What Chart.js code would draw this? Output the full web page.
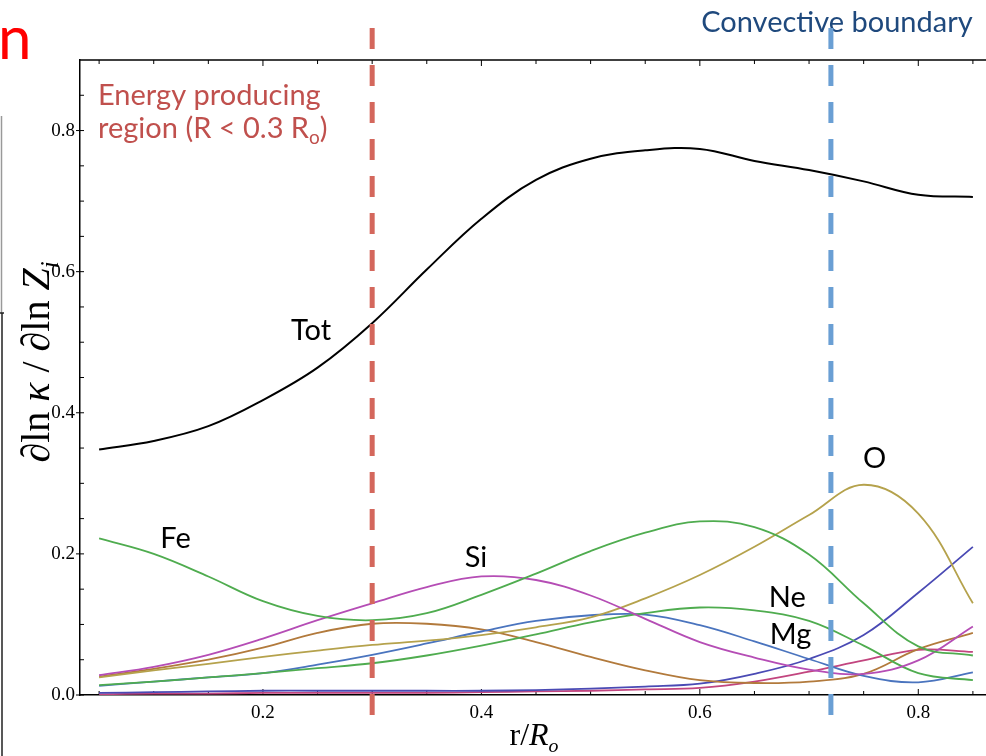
<!DOCTYPE html>
<html lang="en">
<head>
  <meta charset="UTF-8">
  <title>Opacity sensitivity to element abundance</title>
  <style>
    body {
      margin: 0;
      padding: 0;
      background-color: white;
      overflow: hidden;
    }
    #wrap {
      width: 986px;
      height: 756px;
      position: relative;
    }
  </style>
  <script src="https://cdn.jsdelivr.net/npm/chart.js"></script>
</head>
<body>
  <div id="wrap">
    <canvas id="kappaChart" width="986" height="756"></canvas>
  </div>

  <script>
    // radius in units of R_o
    const rValues = [0.05, 0.10, 0.15, 0.20, 0.25, 0.30, 0.35, 0.40, 0.45, 0.50, 0.55, 0.60, 0.65, 0.70, 0.75, 0.80, 0.85];

    // d ln kappa / d ln Z_i for each element
    const totValues = [0.348, 0.360, 0.381, 0.418, 0.464, 0.527, 0.603, 0.675, 0.730, 0.760, 0.772, 0.774, 0.757, 0.744, 0.728, 0.709, 0.706];
    const feValues = [0.222, 0.200, 0.168, 0.133, 0.112, 0.106, 0.116, 0.142, 0.172, 0.204, 0.230, 0.246, 0.238, 0.199, 0.130, 0.069, 0.056];
    const siValues = [0.028, 0.040, 0.057, 0.080, 0.106, 0.130, 0.153, 0.168, 0.163, 0.141, 0.108, 0.075, 0.053, 0.036, 0.030, 0.049, 0.097];
    const oValues = [0.025, 0.035, 0.044, 0.054, 0.063, 0.071, 0.077, 0.085, 0.096, 0.110, 0.137, 0.170, 0.210, 0.255, 0.298, 0.257, 0.130];
    const neValues = [0.014, 0.019, 0.025, 0.031, 0.038, 0.045, 0.056, 0.070, 0.086, 0.103, 0.116, 0.124, 0.120, 0.105, 0.070, 0.031, 0.021];
    const mgValues = [0.013, 0.019, 0.025, 0.031, 0.043, 0.057, 0.073, 0.090, 0.105, 0.113, 0.114, 0.099, 0.076, 0.051, 0.027, 0.018, 0.032];
    // unlabelled curves
    const brownValues = [0.026, 0.037, 0.050, 0.067, 0.088, 0.101, 0.101, 0.093, 0.075, 0.054, 0.035, 0.021, 0.017, 0.019, 0.030, 0.065, 0.088];
    const purpleValues = [0.003, 0.004, 0.005, 0.006, 0.006, 0.006, 0.006, 0.006, 0.007, 0.009, 0.012, 0.016, 0.030, 0.051, 0.085, 0.145, 0.210];
    const pinkValues = [0.001, 0.002, 0.002, 0.003, 0.003, 0.003, 0.003, 0.004, 0.005, 0.006, 0.008, 0.010, 0.019, 0.033, 0.049, 0.064, 0.061];

    const xTicks = [0.2, 0.4, 0.6, 0.8];
    const yTicks = [0.0, 0.2, 0.4, 0.6, 0.8];

    // marker lines (r/R_o)
    const energyEdge = 0.3;
    const convectiveEdge = 0.72;

    // curve labels [text, r, value]
    const curveLabels = [
      ['Tot', 0.244, 0.503],
      ['Fe', 0.120, 0.208],
      ['Si', 0.395, 0.181],
      ['Ne', 0.680, 0.125],
      ['Mg', 0.683, 0.072],
      ['O', 0.760, 0.322]
    ];

    function toPoints(vals) {
      return rValues.map((r, i) => ({ x: r, y: vals[i] }));
    }

    function line(label, vals, color, width) {
      return {
        label: label,
        data: toPoints(vals),
        borderColor: color,
        borderWidth: width || 1.8,
        pointRadius: 0,
        fill: false,
        tension: 0.38
      };
    }

    const sans = 'Lato, "Open Sans", sans-serif';
    const serif = '"Liberation Serif", "DejaVu Serif", serif';

    // draws a run of [text, italic, subscript] pieces starting at x
    function drawPieces(ctx, pieces, x, y, size) {
      pieces.forEach(p => {
        const s = p[2] ? size * 0.62 : size;
        ctx.font = (p[1] ? 'italic ' : '') + s + 'px ' + serif;
        ctx.fillText(p[0], x, p[2] ? y + size * 0.22 : y);
        x += ctx.measureText(p[0]).width;
      });
    }
    function piecesWidth(ctx, pieces, size) {
      let w = 0;
      pieces.forEach(p => {
        const s = p[2] ? size * 0.62 : size;
        ctx.font = (p[1] ? 'italic ' : '') + s + 'px ' + serif;
        w += ctx.measureText(p[0]).width;
      });
      return w;
    }

    const overlay = {
      id: 'overlay',
      beforeDatasetsDraw(chart) {
        const ctx = chart.ctx;
        const xs = chart.scales.x, ys = chart.scales.y;
        const a = chart.chartArea;
        ctx.save();

        // bits of the neighbouring panel
        ctx.fillStyle = '#ff0000';
        ctx.font = '60px ' + sans;
        ctx.textAlign = 'left';
        ctx.textBaseline = 'alphabetic';
        ctx.fillText('n', -2, 59);
        ctx.strokeStyle = '#999';
        ctx.lineWidth = 1.5;
        ctx.beginPath(); ctx.moveTo(1.5, 116); ctx.lineTo(1.5, 313); ctx.stroke();
        ctx.strokeStyle = '#222';
        ctx.beginPath(); ctx.moveTo(0, 313); ctx.lineTo(4, 313); ctx.moveTo(2, 313); ctx.lineTo(2, 756); ctx.stroke();

        // top frame
        ctx.strokeStyle = '#000';
        ctx.lineWidth = 1.5;
        ctx.beginPath(); ctx.moveTo(a.left, a.top); ctx.lineTo(a.right, a.top); ctx.stroke();

        // inward ticks
        ctx.lineWidth = 1;
        for (let i = 1; i <= 17; i++) {
          const v = i * 0.05;
          const px = xs.getPixelForValue(v);
          const len = (i % 4 === 0) ? 6 : 4;
          ctx.beginPath();
          ctx.moveTo(px, a.bottom); ctx.lineTo(px, a.bottom - len);
          ctx.moveTo(px, a.top); ctx.lineTo(px, a.top + len);
          ctx.stroke();
        }
        for (let i = 0; i <= 17; i++) {
          const py = ys.getPixelForValue(i * 0.05);
          ctx.beginPath();
          if (i % 4 === 0) { ctx.moveTo(a.left - 4, py); ctx.lineTo(a.left + 4, py); }
          else { ctx.moveTo(a.left, py); ctx.lineTo(a.left + 4, py); }
          ctx.stroke();
        }

        // text annotations
        ctx.fillStyle = '#c0504d';
        ctx.font = '29px ' + sans;
        const ex = xs.getPixelForValue(0.049);
        ctx.fillText('Energy producing', ex, ys.getPixelForValue(0.836));
        const ey = ys.getPixelForValue(0.789);
        ctx.fillText('region (R < 0.3 R', ex, ey);
        let w = ctx.measureText('region (R < 0.3 R').width;
        ctx.font = '19px ' + sans;
        ctx.fillText('o', ex + w, ey + 6);
        const w2 = ctx.measureText('o').width;
        ctx.font = '29px ' + sans;
        ctx.fillText(')', ex + w + w2, ey);

        ctx.fillStyle = '#1f497d';
        ctx.textAlign = 'center';
        ctx.fillText('Convective boundary', xs.getPixelForValue(0.7255), ys.getPixelForValue(0.94));

        ctx.fillStyle = '#000';
        ctx.font = '29px ' + sans;
        curveLabels.forEach(l => {
          ctx.fillText(l[0], xs.getPixelForValue(l[1]), ys.getPixelForValue(l[2]));
        });

        // axis titles
        ctx.textAlign = 'left';
        const xt = [['r/', false, false], ['R', true, false], ['o', true, true]];
        const xw = piecesWidth(ctx, xt, 32);
        drawPieces(ctx, xt, 534 - xw / 2, 745, 32);

        const yt = [['\u2202ln ', false, false], ['\u03ba', true, false], [' / \u2202ln ', false, false], ['Z', true, false], ['i', true, true]];
        const yw = piecesWidth(ctx, yt, 40);
        ctx.translate(49, 362);
        ctx.rotate(-Math.PI / 2);
        drawPieces(ctx, yt, -yw / 2, 0, 40);
        ctx.restore();
      },
      afterDatasetsDraw(chart) {
        const ctx = chart.ctx;
        const xs = chart.scales.x;
        ctx.save();
        ctx.lineWidth = 5;
        ctx.setLineDash([21, 16]);
        [[energyEdge, '#d4675c'], [convectiveEdge, '#6a9fd4']].forEach(m => {
          const px = xs.getPixelForValue(m[0]);
          ctx.strokeStyle = m[1];
          ctx.beginPath();
          ctx.moveTo(px, 28);
          ctx.lineTo(px, 718);
          ctx.stroke();
        });
        ctx.restore();
      }
    };

    const ctx = document.getElementById('kappaChart').getContext('2d');
    const chart = new Chart(ctx, {
      type: 'line',
      data: {
        datasets: [
          line('Tot', totValues, '#000000', 2),
          line('Fe', feValues, '#4fac4f'),
          line('Si', siValues, '#b54db5'),
          line('O', oValues, '#b5a24c'),
          line('Ne', neValues, '#4fac4f'),
          line('Mg', mgValues, '#4a74be'),
          line('', brownValues, '#b27a3c'),
          line('', purpleValues, '#4a4ab4'),
          line('', pinkValues, '#c2457f')
        ]
      },
      options: {
        responsive: false,
        animation: false,
        layout: { padding: { top: 60, right: 0, left: 0, bottom: 0 } },
        plugins: {
          legend: { display: false },
          tooltip: { enabled: false }
        },
        scales: {
          x: {
            type: 'linear',
            min: 0.0325,
            max: 0.862,
            afterBuildTicks: s => { s.ticks = xTicks.map(v => ({ value: v })); },
            afterFit: s => { s.height = 61; },
            grid: { display: false, drawTicks: false },
            border: { display: true, color: '#000', width: 1.5 },
            ticks: {
              padding: 7,
              color: '#000',
              font: { family: serif, size: 19 },
              callback: v => v.toFixed(1),
              maxRotation: 0
            }
          },
          y: {
            type: 'linear',
            min: 0,
            max: 0.9,
            afterBuildTicks: s => { s.ticks = yTicks.map(v => ({ value: v })); },
            afterFit: s => { s.width = 80; },
            grid: { display: false, drawTicks: false },
            border: { display: true, color: '#000', width: 1.5 },
            ticks: {
              padding: 5,
              color: '#000',
              font: { family: serif, size: 19 },
              callback: v => v.toFixed(1)
            }
          }
        }
      },
      plugins: [overlay]
    });
  </script>
</body>
</html>
